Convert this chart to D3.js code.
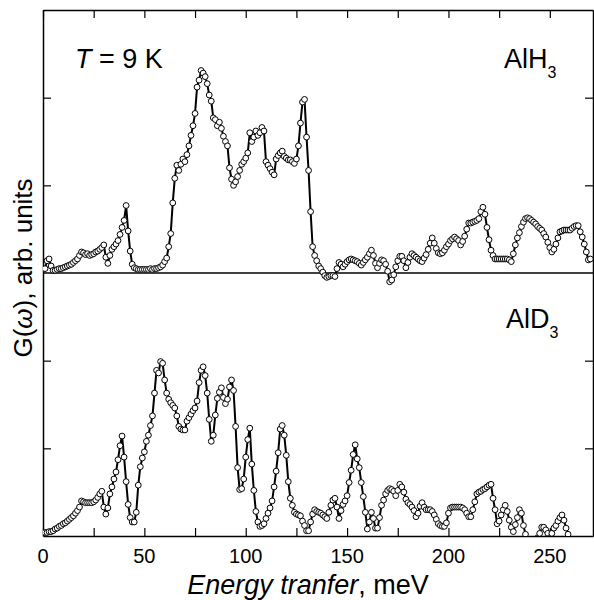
<!DOCTYPE html>
<html>
<head>
<meta charset="utf-8">
<script src="https://cdn.jsdelivr.net/npm/d3@7"></script>
<style>
  html, body { margin: 0; padding: 0; background: #fff; }
  svg { display: block; font-family: "Liberation Sans", Arial, sans-serif; }
</style>
</head>
<body>
<div id="chart"></div>
<script>
// G(omega) of AlH3 and AlD3, one point per meV starting at 1 meV

const energyStart = 1;   // meV of the first point
const energyStep = 1;    // meV between points

// AlH3, E = 1..270 meV (arb. units)
const alh3 = [
  0.05,0.14,0.16,0.08,0.03,0.03,0.04,0.05,0.05,0.06,
  0.07,0.08,0.09,0.10,0.12,0.14,0.16,0.20,0.24,0.23,
  0.21,0.22,0.20,0.21,0.22,0.24,0.25,0.27,0.29,0.32,
  0.18,0.11,0.20,0.27,0.30,0.33,0.37,0.44,0.52,0.60,
  0.77,0.48,0.25,0.10,0.06,0.05,0.04,0.04,0.04,0.04,
  0.04,0.04,0.05,0.04,0.05,0.05,0.06,0.07,0.09,0.13,
  0.17,0.30,0.45,0.80,1.08,1.23,1.17,1.24,1.30,1.27,
  1.35,1.45,1.57,1.68,1.82,2.12,2.20,2.31,2.28,2.24,
  2.16,2.03,1.96,1.77,1.75,1.68,1.72,1.65,1.56,1.50,
  1.45,1.20,1.07,1.00,1.04,1.10,1.17,1.24,1.27,1.31,
  1.37,1.60,1.50,1.55,1.62,1.57,1.60,1.66,1.62,1.27,
  1.23,1.19,1.15,1.12,1.30,1.34,1.37,1.39,1.33,1.31,
  1.29,1.29,1.27,1.25,1.30,1.45,1.71,1.95,1.98,1.55,
  1.17,0.70,0.30,0.20,0.14,0.08,0.05,0.01,-0.03,-0.05,
  -0.04,-0.03,-0.03,-0.04,0.05,0.12,0.10,0.07,0.10,0.13,
  0.15,0.16,0.15,0.14,0.13,0.11,0.09,0.12,0.15,0.18,
  0.22,0.26,0.20,0.11,0.06,0.11,0.15,0.14,0.10,0.02,
  -0.10,-0.08,-0.02,0.07,0.14,0.19,0.19,0.14,0.06,0.12,
  0.18,0.22,0.20,0.18,0.16,0.14,0.13,0.17,0.21,0.27,
  0.34,0.40,0.34,0.28,0.23,0.22,0.23,0.26,0.30,0.33,
  0.37,0.39,0.41,0.39,0.37,0.32,0.36,0.42,0.50,0.57,
  0.57,0.58,0.59,0.60,0.62,0.70,0.75,0.67,0.52,0.38,
  0.26,0.20,0.16,0.16,0.16,0.16,0.16,0.16,0.16,0.15,
  0.13,0.22,0.32,0.40,0.46,0.53,0.58,0.62,0.63,0.62,
  0.60,0.58,0.56,0.53,0.51,0.49,0.45,0.41,0.35,0.29,
  0.24,0.27,0.33,0.40,0.47,0.48,0.49,0.49,0.49,0.49,
  0.51,0.53,0.54,0.54,0.47,0.41,0.33,0.24,0.15,0.16
];

// AlD3, E = 1..270 meV (arb. units)
const ald3 = [
  0.04,0.04,0.05,0.05,0.06,0.08,0.09,0.11,0.12,0.14,
  0.15,0.17,0.19,0.21,0.23,0.26,0.29,0.33,0.40,0.39,
  0.38,0.38,0.38,0.38,0.39,0.41,0.44,0.48,0.51,0.33,
  0.25,0.32,0.48,0.56,0.65,0.73,0.87,1.03,1.14,0.90,
  0.62,0.36,0.21,0.16,0.16,0.27,0.58,0.79,0.89,0.96,
  1.08,1.15,1.26,1.37,1.63,1.89,1.86,1.99,1.97,1.78,
  1.63,1.56,1.52,1.49,1.46,1.37,1.25,1.22,1.21,1.21,
  1.31,1.35,1.39,1.43,1.46,1.54,1.75,1.89,1.93,1.83,
  1.63,1.33,1.08,1.15,1.38,1.57,1.64,1.69,1.58,1.51,
  1.56,1.70,1.78,1.66,1.25,0.78,0.53,0.54,0.65,0.90,
  1.10,1.23,0.82,0.52,0.28,0.16,0.11,0.12,0.14,0.20,
  0.26,0.32,0.40,0.56,0.74,0.95,1.22,1.26,1.15,0.92,
  0.62,0.43,0.35,0.27,0.25,0.24,0.23,0.17,0.12,0.06,
  0.06,0.16,0.25,0.30,0.28,0.27,0.26,0.24,0.22,0.20,
  0.27,0.35,0.41,0.43,0.33,0.20,0.29,0.36,0.40,0.46,
  0.61,0.75,0.93,1.04,0.88,0.78,0.61,0.45,0.27,0.08,
  0.16,0.27,0.20,0.09,0.09,0.21,0.35,0.41,0.48,0.52,
  0.54,0.53,0.51,0.46,0.52,0.59,0.56,0.50,0.42,0.38,
  0.36,0.33,0.29,0.22,0.26,0.34,0.38,0.33,0.30,0.30,
  0.30,0.28,0.24,0.19,0.14,0.12,0.11,0.11,0.15,0.26,
  0.32,0.33,0.33,0.33,0.33,0.33,0.32,0.30,0.26,0.22,
  0.22,0.30,0.39,0.48,0.50,0.51,0.53,0.54,0.56,0.58,
  0.59,0.43,0.30,0.14,0.17,0.24,0.30,0.35,0.28,0.18,
  0.10,0.05,0.13,0.21,0.30,0.26,0.12,0.02,-0.08,-0.12,
  -0.12,-0.10,-0.06,-0.02,0.03,0.10,0.10,0.07,0.03,-0.02,
  0.03,0.09,0.12,0.17,0.21,0.24,0.18,0.09,0.02,-0.05,
  -0.10,-0.12,-0.12,-0.12,-0.12,-0.12,-0.12,-0.12,-0.12,-0.12
];

const xTicks = [0, 25, 50, 75, 100, 125, 150, 175, 200, 225, 250];
const xLabels = [0, 50, 100, 150, 200, 250];
const yTicks = [1, 2, 4, 5];   // both panels share one scale, AlH3 sits 3 units up
const panelOffset = 3;

const width = 594, height = 600;
const margin = { left: 43, right: 1, top: 10, bottom: 64 };

const svg = d3.select('#chart').append('svg')
    .attr('width', width)
    .attr('height', height);

const x = d3.scaleLinear()
    .domain([0, 271.3])
    .range([margin.left, width - margin.right]);

const y = d3.scaleLinear()
    .domain([0, 6])
    .range([height - margin.bottom, margin.top]);

svg.append('clipPath')
    .attr('id', 'plot-clip')
    .append('rect')
    .attr('x', x(0))
    .attr('y', y(6))
    .attr('width', x(271.3) - x(0))
    .attr('height', y(0) - y(6));

// frame + ticks
const tickLen = 8;
const axisBottom = svg.append('g')
    .attr('transform', `translate(0,${y(0)})`)
    .call(d3.axisBottom(x).tickValues(xTicks).tickSizeInner(-tickLen).tickSizeOuter(0).tickFormat(''));
const axisTop = svg.append('g')
    .attr('transform', `translate(0,${y(6)})`)
    .call(d3.axisTop(x).tickValues(xTicks).tickSizeInner(-tickLen).tickSizeOuter(0).tickFormat(''));
const axisLeft = svg.append('g')
    .attr('transform', `translate(${x(0)},0)`)
    .call(d3.axisLeft(y).tickValues(yTicks).tickSizeInner(-tickLen).tickSizeOuter(0).tickFormat(''));
const axisRight = svg.append('g')
    .attr('transform', `translate(${x(271.3)},0)`)
    .call(d3.axisRight(y).tickValues(yTicks).tickSizeInner(-tickLen).tickSizeOuter(0).tickFormat(''));

[axisBottom, axisTop, axisLeft, axisRight].forEach(g => {
    g.select('.domain').attr('stroke', '#000').attr('stroke-width', 1.5);
    g.selectAll('.tick line').attr('stroke', '#000').attr('stroke-width', 1.2);
});

// tick labels
svg.append('g')
    .selectAll('text')
    .data(xLabels)
    .enter()
    .append('text')
    .attr('x', d => x(d))
    .attr('y', y(0) + 27)
    .attr('text-anchor', 'middle')
    .attr('font-size', 20)
    .text(d => d);

// zero line of the upper panel
svg.append('line')
    .attr('x1', x(0)).attr('x2', x(271.3))
    .attr('y1', y(panelOffset)).attr('y2', y(panelOffset))
    .attr('stroke', '#000')
    .attr('stroke-width', 1.5);

const plot = svg.append('g').attr('clip-path', 'url(#plot-clip)');

function drawSeries(values, offset) {
    const pts = values.map((v, i) => ({ e: energyStart + i * energyStep, v: v + offset }));
    const line = d3.line()
        .x(d => x(d.e))
        .y(d => y(d.v));
    plot.append('path')
        .datum(pts)
        .attr('d', line)
        .attr('fill', 'none')
        .attr('stroke', '#000')
        .attr('stroke-width', 2)
        .attr('stroke-linejoin', 'round');
    plot.append('g')
        .selectAll('circle')
        .data(pts)
        .enter()
        .append('circle')
        .attr('cx', d => x(d.e))
        .attr('cy', d => y(d.v))
        .attr('r', 2.9)
        .attr('fill', '#fff')
        .attr('stroke', '#000')
        .attr('stroke-width', 1);
}

drawSeries(alh3, panelOffset);
drawSeries(ald3, 0);

// annotations
const tLabel = svg.append('text')
    .attr('x', 75)
    .attr('y', 68)
    .attr('font-size', 27);
tLabel.append('tspan').attr('font-style', 'italic').text('T');
tLabel.append('tspan').text(' = 9 K');

function compoundLabel(xPos, yPos, base) {
    const t = svg.append('text')
        .attr('x', xPos)
        .attr('y', yPos)
        .attr('font-size', 27);
    t.append('tspan').text(base);
    t.append('tspan').attr('font-size', 16).attr('dy', 10).text('3');
}
compoundLabel(504, 68, 'AlH');
compoundLabel(506, 328, 'AlD');

// axis titles
const xTitle = svg.append('text')
    .attr('x', 308)
    .attr('y', 594)
    .attr('text-anchor', 'middle')
    .attr('font-size', 27);
xTitle.append('tspan').attr('font-style', 'italic').text('Energy tranfer');
xTitle.append('tspan').text(', meV');

const yTitle = svg.append('text')
    .attr('transform', `translate(32,268) rotate(-90)`)
    .attr('text-anchor', 'middle')
    .attr('font-size', 26);
yTitle.append('tspan').text('G(');
yTitle.append('tspan').attr('font-style', 'italic').text('ω');
yTitle.append('tspan').text('), arb. units');
</script>
</body>
</html>
